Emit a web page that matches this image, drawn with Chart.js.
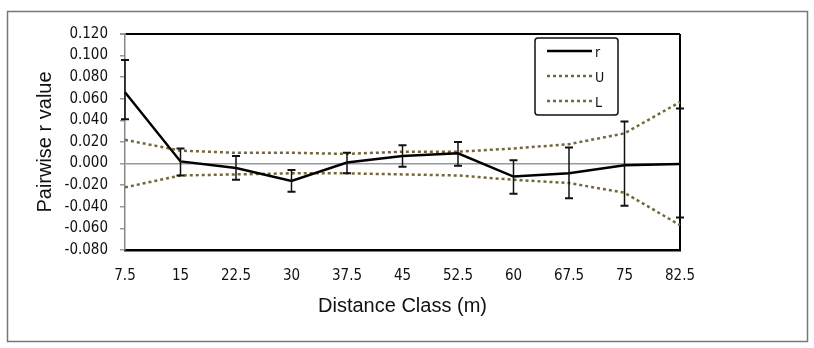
<!DOCTYPE html>
<html>
<head>
<meta charset="utf-8">
<script src="https://cdn.jsdelivr.net/npm/chart.js@4.4.1/dist/chart.umd.min.js"></script>
<style>
  html, body { margin: 0; padding: 0; background: #fff; }
  #wrap { width: 814px; height: 348px; }
</style>
</head>
<body>
<div id="wrap"><canvas id="pairGraph" width="814" height="348"></canvas></div>
<script>
const distClasses = ['7.5', '15', '22.5', '30', '37.5', '45', '52.5', '60', '67.5', '75', '82.5'];
const rValues = [0.066, 0.002, -0.004, -0.016, 0.001, 0.007, 0.0095, -0.012, -0.009, -0.0015, -0.0003];
const errTop = [0.096, 0.014, 0.007, -0.006, 0.010, 0.017, 0.020, 0.003, 0.015, 0.039, 0.051];
const errBottom = [0.041, -0.011, -0.015, -0.026, -0.009, -0.003, -0.002, -0.028, -0.032, -0.039, -0.050];
const upperCI = [0.022, 0.012, 0.010, 0.010, 0.009, 0.011, 0.011, 0.014, 0.018, 0.028, 0.057];
const lowerCI = [-0.022, -0.011, -0.010, -0.009, -0.009, -0.010, -0.011, -0.015, -0.018, -0.027, -0.057];
const yTicks = { min: -0.08, max: 0.12, step: 0.02 };

const ciColor = '#74683a';
const tickFont = { family: 'DejaVu Sans Condensed', size: 15 };

// outer frame round the whole figure
const framePlugin = {
    id: 'frame',
    beforeDraw(chart) {
        const c = chart.ctx;
        c.save();
        c.fillStyle = '#fff';
        c.fillRect(0, 0, chart.width, chart.height);
        c.strokeStyle = '#777';
        c.lineWidth = 1.5;
        c.strokeRect(7.5, 11.5, 800, 330);
        c.restore();
    }
};

// error bars on the r series
const errorBarPlugin = {
    id: 'errorBars',
    afterDatasetsDraw(chart) {
        const c = chart.ctx;
        const xs = chart.scales.x, ys = chart.scales.y;
        c.save();
        c.strokeStyle = '#111';
        distClasses.forEach((lab, i) => {
            const x = xs.getPixelForValue(i);
            const yt = ys.getPixelForValue(errTop[i]);
            const yb = ys.getPixelForValue(errBottom[i]);
            c.lineWidth = 1.5;
            c.beginPath();
            c.moveTo(x, yt); c.lineTo(x, yb);
            c.stroke();
            c.lineWidth = 2;
            c.beginPath();
            c.moveTo(x - 4, yt); c.lineTo(x + 4, yt);
            c.moveTo(x - 4, yb); c.lineTo(x + 4, yb);
            c.stroke();
        });
        c.restore();
    }
};

// boxed legend inside the plot area
const boxLegendPlugin = {
    id: 'boxLegend',
    afterDraw(chart) {
        const c = chart.ctx;
        const bx = 535, by = 38, bw = 83, bh = 77;
        c.save();
        c.fillStyle = '#fff';
        c.strokeStyle = '#111';
        c.lineWidth = 1.5;
        c.beginPath();
        c.roundRect(bx, by, bw, bh, 3);
        c.fill();
        c.stroke();
        c.font = '14px "DejaVu Sans Condensed"';
        c.textBaseline = 'middle';
        chart.data.datasets.forEach((ds, i) => {
            const y = by + 13 + i * 25;
            c.strokeStyle = ds.borderColor;
            c.lineWidth = ds.borderWidth;
            c.setLineDash(ds.borderDash || []);
            c.beginPath();
            c.moveTo(bx + 12, y); c.lineTo(bx + 57, y);
            c.stroke();
            c.setLineDash([]);
            c.fillStyle = '#111';
            c.fillText(ds.label, bx + 60, y + 2);
        });
        c.restore();
    }
};

const ctx = document.getElementById('pairGraph').getContext('2d');

const pairGraph = new Chart(ctx, {
    type: 'line',
    data: {
        labels: distClasses,
        datasets: [{
            label: 'r',
            data: rValues,
            borderColor: '#000',
            borderWidth: 2.5,
            pointRadius: 0,
            tension: 0,
            order: 1
        }, {
            label: 'U',
            data: upperCI,
            borderColor: ciColor,
            borderWidth: 2.5,
            borderDash: [3, 3],
            pointRadius: 0,
            tension: 0,
            order: 2
        }, {
            label: 'L',
            data: lowerCI,
            borderColor: ciColor,
            borderWidth: 2.5,
            borderDash: [3, 3],
            pointRadius: 0,
            tension: 0,
            order: 3
        }]
    },
    options: {
        responsive: false,
        animation: false,
        layout: { padding: { left: 0, top: 34, right: 134, bottom: 0 } },
        scales: {
            x: {
                type: 'category',
                offset: false,
                afterFit(scale) { scale.height = 98; },
                border: { color: '#000', width: 2.5 },
                grid: {
                    drawTicks: false,
                    color: c => (c.index === distClasses.length - 1 ? '#000' : 'rgba(0,0,0,0)'),
                    lineWidth: 2
                },
                ticks: {
                    padding: 17,
                    color: '#111',
                    font: tickFont,
                    maxRotation: 0,
                    autoSkip: false
                },
                title: {
                    display: true,
                    text: 'Distance Class (m)',
                    color: '#111',
                    font: { family: 'Liberation Sans', size: 20 },
                    padding: { top: 0, bottom: 30 }
                }
            },
            y: {
                min: yTicks.min,
                max: yTicks.max,
                afterFit(scale) { scale.width = 125; },
                border: { color: '#888', width: 1.5 },
                grid: {
                    tickLength: 5,
                    tickColor: '#999',
                    color: c => {
                        const v = c.tick ? c.tick.value : 0;
                        if (Math.abs(v) < 1e-9) return '#999';
                        if (Math.abs(v - yTicks.max) < 1e-9) return '#000';
                        return 'rgba(0,0,0,0)';
                    },
                    lineWidth: c => (c.tick && Math.abs(c.tick.value - yTicks.max) < 1e-9 ? 2 : 1.5)
                },
                ticks: {
                    stepSize: yTicks.step,
                    padding: 12,
                    color: '#111',
                    font: tickFont,
                    callback: v => Number(v).toFixed(3)
                },
                title: {
                    display: true,
                    text: 'Pairwise r value',
                    color: '#111',
                    font: { family: 'Liberation Sans', size: 20 },
                    padding: { top: 33, bottom: 0 }
                }
            }
        },
        plugins: {
            legend: { display: false },
            tooltip: { enabled: false }
        }
    },
    plugins: [framePlugin, errorBarPlugin, boxLegendPlugin]
});
</script>
</body>
</html>
